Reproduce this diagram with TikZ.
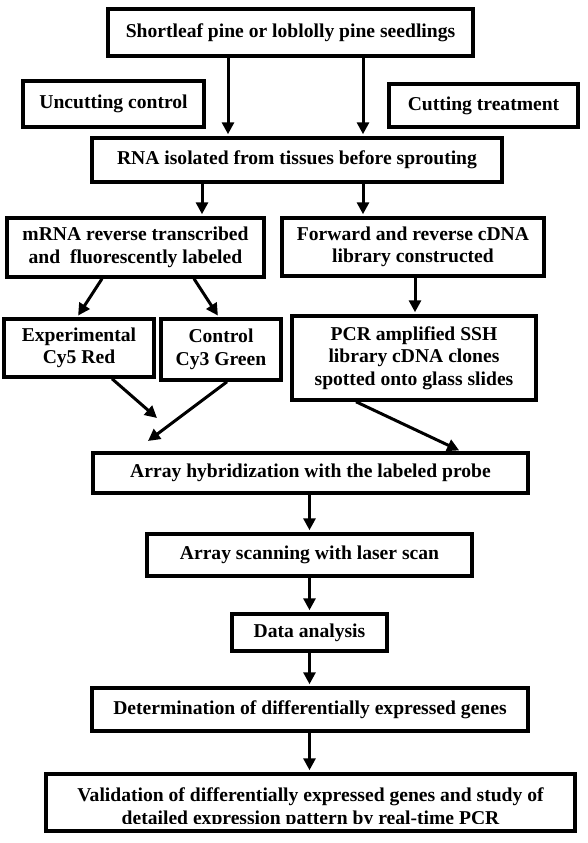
\documentclass[tikz,border=0pt]{standalone}
\usepackage{fontspec}
\setmainfont{Liberation Serif}
\usetikzlibrary{arrows.meta}
\begin{document}
\begin{tikzpicture}[x=1pt,y=-1pt,
  box/.style={draw, line width=3.5pt, inner sep=0pt, align=center,
    font=\bfseries\fontsize{19.6}{22.5}\selectfont},
  txt/.style={inner sep=0pt, align=center, font=\bfseries\fontsize{19.6}{22.5}\selectfont},
  arr/.style={line width=3pt, -{Triangle[length=12pt,width=12pt]}, shorten >=2pt}]
\useasboundingbox (0,0) rectangle (588,843);
\node[box, minimum width=365pt, minimum height=47pt] (top) at (290.5,32.5) {Shortleaf pine or loblolly pine seedlings};
\node[box, minimum width=181pt, minimum height=46pt] (unc) at (113.5,104) {Uncutting control};
\node[box, minimum width=189pt, minimum height=43pt] (cut) at (483.5,105.5) {Cutting treatment};
\node[box, minimum width=410pt, minimum height=44pt] (rna) at (297,160) {RNA isolated from tissues before sprouting};
\node[box, minimum width=257pt, minimum height=59pt] (mrna) at (135.5,247.5) {mRNA reverse transcribed\\and\ \ fluorescently labeled};
\node[box, minimum width=262pt, minimum height=58pt] (fwd) at (413,247) {Forward and reverse cDNA\\library constructed};
\node[box, minimum width=150pt, minimum height=58pt] (exp) at (79,348) {Experimental\\Cy5 Red};
\node[box, minimum width=120pt, minimum height=61pt] (ctl) at (221,349.5) {Control\\Cy3 Green};
\node[box, minimum width=244pt, minimum height=84pt] (pcr) at (414,358) {PCR amplified SSH\\library cDNA clones\\spotted onto glass slides};
\node[box, minimum width=435pt, minimum height=40pt] (hyb) at (310.5,473) {Array hybridization with the labeled probe};
\node[box, minimum width=325pt, minimum height=42pt] (scan) at (309.5,555) {Array scanning with laser scan};
\node[box, minimum width=155pt, minimum height=37pt] (data) at (309.5,632.5) {Data analysis};
\node[box, minimum width=436pt, minimum height=43pt] (det) at (310,709.5) {Determination of differentially expressed genes};
\node[box, minimum width=529pt, minimum height=57pt] (val) at (310.5,802.5) {};
\begin{scope}
  \clip (48,776) rectangle (573,823.5);
  \node[txt] (valtxt) at (310.5,808) {Validation of differentially expressed genes and study of\\detailed expression pattern by real-time PCR};
\end{scope}
\coordinate (m1) at (157,418);
\coordinate (m2) at (148,441);
% arrows
\draw[arr] ([xshift=-62.5pt]top.south) -- ([xshift=-69pt]rna.north);
\draw[arr] ([xshift=72.5pt]top.south) -- ([xshift=66pt]rna.north);
\draw[arr] ([xshift=-95pt]rna.south) -- ([xshift=66.5pt]mrna.north);
\draw[arr] ([xshift=66pt]rna.south) -- ([xshift=-50pt]fwd.north);
\draw[arr] ([xshift=-33.5pt]mrna.south) -- ([xshift=-2pt]exp.north);
\draw[arr] ([xshift=58.5pt]mrna.south) -- ([xshift=-2pt]ctl.north);
\draw[arr] ([xshift=2pt]fwd.south) -- ([xshift=1pt]pcr.north);
\draw[arr, shorten >=0pt] ([xshift=33pt]exp.south) -- (m1);
\draw[arr, shorten >=0pt] ([xshift=6pt]ctl.south) -- (m2);
\draw[arr] ([xshift=-58pt]pcr.south) -- ([xshift=150.5pt]hyb.north);
\draw[arr] ([xshift=-1pt]hyb.south) -- (scan.north);
\draw[arr] (scan.south) -- (data.north);
\draw[arr] (data.south) -- ([xshift=-0.5pt]det.north);
\draw[arr] ([xshift=-0.5pt]det.south) -- ([xshift=-1pt]val.north);
\end{tikzpicture}
\end{document}
